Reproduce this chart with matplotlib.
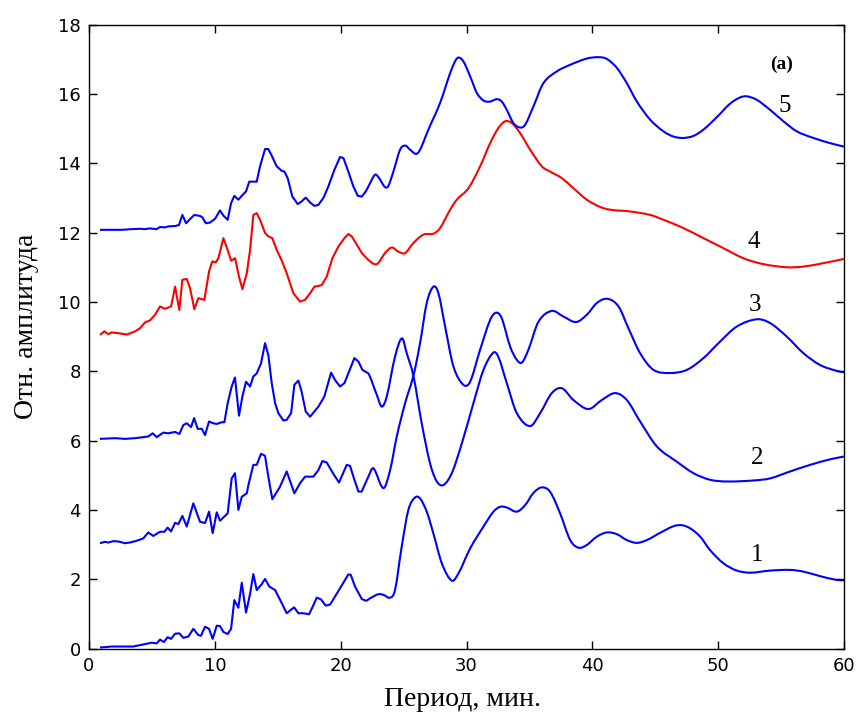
import matplotlib
matplotlib.use("Agg")
import matplotlib.pyplot as plt
from matplotlib.path import Path
from matplotlib.patches import PathPatch

# curve 1 (bottom, starts at 0)
x1 = [0.87, 1.80, 3.52, 4.32, 4.98, 5.38, 5.64, 5.96, 6.25, 6.52, 6.84, 7.18, 7.50, 7.90, 8.29, 8.69,
      8.90, 9.22, 9.54, 9.83, 10.15, 10.41, 10.68, 11.02, 11.29, 11.55, 11.87, 12.14, 12.48, 12.80,
      13.06, 13.33, 13.73, 13.99, 14.33, 14.79, 15.32, 15.71, 16.30, 16.64, 17.04, 17.49, 17.78,
      18.10, 18.44, 18.81, 19.16, 19.95, 20.61, 20.80, 21.14, 21.68, 22.00, 22.34, 23.00, 23.40,
      23.93, 24.32, 24.85, 25.38, 25.91, 26.31, 26.84, 27.37, 28.04, 28.83, 29.36, 30.29, 31.35,
      32.14, 32.67, 33.20, 34.00, 34.66, 35.32, 35.99, 36.65, 37.44, 38.24, 38.90, 39.56, 40.36,
      41.15, 41.95, 42.74, 43.54, 44.33, 45.39, 46.45, 47.11, 47.77, 48.57, 49.36, 50.42, 51.49,
      52.54, 54.13, 55.72, 56.78, 58.10, 59.43, 60.00]
y1 = [0.03, 0.06, 0.06, 0.12, 0.17, 0.15, 0.26, 0.19, 0.33, 0.28, 0.43, 0.44, 0.31, 0.35, 0.57, 0.39,
      0.37, 0.63, 0.57, 0.28, 0.66, 0.65, 0.48, 0.42, 0.57, 1.40, 1.18, 1.90, 1.04, 1.58,
      2.15, 1.69, 1.86, 2.01, 1.79, 1.69, 1.31, 1.02, 1.19, 1.02, 1.02, 0.99, 1.21,
      1.47, 1.42, 1.24, 1.27, 1.74, 2.14, 2.13, 1.79, 1.43, 1.38, 1.45, 1.57, 1.55,
      1.47, 1.69, 2.94, 4.00, 4.36, 4.33, 3.95, 3.32, 2.46, 1.96, 2.17, 2.89, 3.52,
      3.95, 4.09, 4.07, 3.95, 4.14, 4.49, 4.65, 4.52, 3.90, 3.13, 2.91, 2.99, 3.23,
      3.35, 3.30, 3.13, 3.05, 3.13, 3.34, 3.53, 3.56, 3.47, 3.23, 2.84, 2.46, 2.25,
      2.19, 2.25, 2.27, 2.22, 2.09, 1.98, 1.97]

# curve starting at 3
x2 = [0.87, 1.27, 1.53, 1.93, 2.33, 2.86, 3.26, 3.79, 4.32, 4.71, 5.11, 5.64, 5.99, 6.25, 6.52, 6.84,
      7.10, 7.42, 7.77, 8.29, 8.82, 9.22, 9.54, 9.83, 10.15, 10.41, 11.02, 11.34, 11.60, 11.87,
      12.14, 12.54, 12.67, 13.06, 13.33, 13.67, 13.99, 14.25, 14.57, 15.18, 15.71, 16.32, 16.77,
      17.17, 17.83, 18.23, 18.55, 18.89, 19.42, 19.87, 20.48, 20.75, 21.01, 21.41, 21.67, 22.20,
      22.60, 23.40, 23.93, 24.46, 25.12, 25.78, 26.31, 26.84, 27.37, 27.77, 28.30, 28.96, 29.75,
      30.29, 31.08, 31.88, 32.35, 32.80, 33.47, 34.00, 34.40, 34.92, 35.72, 36.78, 37.70, 38.71,
      39.56, 40.36, 41.20, 42.08, 42.87, 43.80, 44.86, 46.18, 47.51, 48.83, 50.16, 51.48, 53.07,
      54.13, 55.45, 56.78, 58.10, 59.43, 60.00]
y2 = [3.04, 3.08, 3.06, 3.10, 3.09, 3.04, 3.06, 3.11, 3.18, 3.35, 3.25, 3.37, 3.37, 3.49, 3.38, 3.63,
      3.59, 3.83, 3.52, 4.19, 3.66, 3.62, 3.95, 3.33, 3.93, 3.69, 3.90, 4.91, 5.06, 4.00,
      4.38, 4.48, 4.72, 5.30, 5.30, 5.62, 5.56, 4.96, 4.31, 4.67, 5.11, 4.48, 4.77,
      4.96, 4.96, 5.15, 5.41, 5.37, 5.04, 4.79, 5.30, 5.27, 4.96, 4.53, 4.53, 4.96,
      5.20, 4.63, 5.15, 6.12, 7.08, 7.87, 8.81, 9.97, 10.44, 10.25, 9.29, 8.14, 7.61,
      7.70, 8.62, 9.48, 9.69, 9.53, 8.71, 8.33, 8.25, 8.62, 9.43, 9.74, 9.58, 9.42,
      9.63, 9.97, 10.09, 9.87, 9.24, 8.52, 8.04, 7.95, 8.04, 8.38, 8.86, 9.29, 9.50,
      9.39, 9.00, 8.52, 8.18, 8.01, 7.97]

# curve starting at 6
x3 = [0.87, 2.07, 2.86, 3.66, 4.32, 4.71, 5.06, 5.38, 5.91, 6.30, 6.84, 7.18, 7.50, 7.77, 8.11, 8.35,
      8.64, 8.96, 9.22, 9.54, 9.88, 10.15, 10.55, 10.76, 11.02, 11.34, 11.60, 11.92, 12.19, 12.48,
      12.80, 13.06, 13.33, 13.67, 13.99, 14.25, 14.52, 14.79, 15.05, 15.45, 15.71, 16.06, 16.32,
      16.64, 16.90, 17.22, 17.57, 18.23, 18.70, 19.24, 19.55, 19.95, 20.30, 20.61, 21.09, 21.41,
      21.73, 22.20, 22.87, 23.27, 23.66, 24.32, 24.87, 25.25, 25.78, 26.44, 27.10, 27.64, 28.17,
      28.83, 29.63, 30.55, 31.35, 32.14, 32.54, 33.20, 34.00, 35.06, 35.85, 36.78, 37.58, 38.50,
      39.69, 40.75, 41.81, 42.74, 43.80, 45.13, 46.72, 48.04, 49.36, 50.69, 52.81, 54.13, 55.72,
      57.31, 58.90, 60.00]
y3 = [6.05, 6.07, 6.05, 6.07, 6.10, 6.12, 6.21, 6.10, 6.23, 6.21, 6.25, 6.19, 6.45, 6.50, 6.39, 6.65,
      6.34, 6.34, 6.16, 6.55, 6.50, 6.48, 6.53, 6.53, 7.08, 7.56, 7.82, 6.72, 7.27, 7.70,
      7.56, 7.85, 7.94, 8.23, 8.81, 8.47, 7.66, 7.08, 6.79, 6.58, 6.60, 6.79, 7.61,
      7.73, 7.41, 6.84, 6.69, 6.98, 7.27, 7.96, 7.75, 7.56, 7.66, 7.94, 8.38, 8.28,
      8.04, 7.94, 7.32, 6.98, 7.27, 8.42, 8.95, 8.52, 7.87, 6.50, 5.35, 4.82, 4.72,
      5.06, 5.92, 7.08, 8.04, 8.54, 8.41, 7.66, 6.79, 6.42, 6.79, 7.37, 7.51, 7.17,
      6.91, 7.17, 7.37, 7.17, 6.55, 5.83, 5.39, 5.06, 4.87, 4.82, 4.85, 4.91, 5.11,
      5.30, 5.46, 5.54]

# curve 4 (red)
x4 = [0.87, 1.22, 1.53, 1.80, 2.33, 3.00, 3.66, 4.05, 4.45, 4.85, 5.25, 5.64, 6.04, 6.52, 6.84, 7.18,
      7.42, 7.77, 8.03, 8.37, 8.69, 9.17, 9.54, 9.80, 10.07, 10.28, 10.68, 11.02, 11.29, 11.61,
      11.92, 12.19, 12.54, 12.80, 13.06, 13.33, 13.59, 13.99, 14.25, 14.57, 14.92, 15.32, 15.71,
      16.24, 16.77, 17.17, 17.57, 17.91, 18.23, 18.50, 18.89, 19.34, 19.82, 20.30, 20.61, 20.88,
      21.20, 21.68, 22.20, 22.87, 23.53, 24.06, 24.59, 25.12, 25.78, 26.57, 27.37, 27.90, 28.70,
      29.23, 30.15, 31.08, 31.88, 32.54, 33.07, 33.60, 34.26, 35.06, 35.99, 36.65, 37.58, 38.50,
      39.56, 40.62, 41.41, 43.00, 44.59, 45.65, 47.24, 48.83, 50.42, 52.01, 53.60, 55.45, 56.78,
      58.37, 60.00]
y4 = [9.05, 9.15, 9.07, 9.12, 9.10, 9.06, 9.15, 9.24, 9.41, 9.47, 9.63, 9.87, 9.80, 9.87, 10.44, 9.77,
      10.64, 10.66, 10.40, 9.79, 10.11, 10.06, 10.88, 11.17, 11.14, 11.26, 11.84, 11.50, 11.19, 11.26,
      10.73, 10.37, 10.83, 11.50, 12.51, 12.56, 12.37, 11.99, 11.89, 11.84, 11.50, 11.19, 10.83,
      10.25, 10.01, 10.06, 10.25, 10.44, 10.46, 10.49, 10.73, 11.26, 11.60, 11.84, 11.96, 11.89,
      11.70, 11.41, 11.21, 11.09, 11.41, 11.57, 11.45, 11.41, 11.70, 11.94, 11.97, 12.13, 12.66,
      12.95, 13.28, 13.91, 14.58, 15.02, 15.21, 15.16, 14.87, 14.39, 13.91, 13.76, 13.57, 13.28,
      12.95, 12.74, 12.66, 12.61, 12.51, 12.37, 12.13, 11.84, 11.55, 11.26, 11.09, 11.00, 11.02,
      11.12, 11.24]

# curve 5 (top)
x5 = [0.87, 1.80, 2.60, 3.39, 4.05, 4.45, 4.85, 5.38, 5.64, 6.04, 6.31, 6.84, 7.15, 7.42, 7.71, 8.03,
      8.37, 8.82, 9.01, 9.28, 9.62, 10.02, 10.41, 10.68, 11.02, 11.29, 11.55, 11.87, 12.14, 12.48,
      12.74, 13.33, 13.59, 13.99, 14.25, 14.52, 14.92, 15.32, 15.53, 15.79, 16.16, 16.59, 16.90,
      17.22, 17.57, 17.91, 18.23, 18.63, 19.02, 19.50, 19.95, 20.22, 20.61, 21.01, 21.36, 21.68,
      22.00, 22.34, 22.73, 23.00, 23.53, 23.79, 24.19, 24.72, 25.12, 25.52, 25.99, 26.31, 26.97,
      27.90, 28.70, 29.09, 29.36, 29.75, 30.29, 30.82, 31.35, 31.88, 32.41, 32.80, 33.20, 33.73,
      34.26, 34.66, 35.32, 36.11, 37.18, 38.24, 39.56, 40.48, 41.15, 41.95, 42.74, 43.54, 44.59,
      45.65, 46.45, 47.24, 48.04, 48.83, 49.89, 50.95, 51.75, 52.28, 53.07, 54.13, 55.19, 56.25,
      57.57, 58.90, 60.00]
y5 = [12.08, 12.08, 12.08, 12.10, 12.11, 12.10, 12.12, 12.10, 12.16, 12.15, 12.18, 12.19, 12.22, 12.51,
      12.27, 12.39, 12.51, 12.48, 12.44, 12.27, 12.29, 12.40, 12.64, 12.49, 12.37, 12.85, 13.06, 12.95,
      13.06, 13.19, 13.47, 13.47, 13.91, 14.41, 14.41, 14.22, 13.91, 13.78, 13.76, 13.57, 13.04, 12.82,
      12.90, 13.01, 12.87, 12.77, 12.80, 13.00, 13.33, 13.81, 14.18, 14.15, 13.76, 13.33, 13.06, 13.04,
      13.19, 13.43, 13.67, 13.60, 13.31, 13.35, 13.76, 14.39, 14.51, 14.39, 14.27, 14.39, 14.97,
      15.74, 16.60, 16.94, 17.05, 16.94, 16.51, 16.03, 15.81, 15.78, 15.85, 15.78, 15.54, 15.16,
      15.03, 15.11, 15.64, 16.31, 16.65, 16.84, 17.02, 17.06, 17.01, 16.75, 16.31, 15.78, 15.26,
      14.92, 14.77, 14.73, 14.79, 14.97, 15.33, 15.72, 15.90, 15.93, 15.83, 15.54, 15.21, 14.92,
      14.73, 14.58, 14.48]

curve_labels = ["1", "2", "3", "4", "5"]
label_x = [53.07, 53.07, 52.94, 52.80, 55.30]
label_y = [2.70, 5.49, 9.92, 11.74, 15.64]


def draw_curve(ax, xs, ys, color, split=22.3):
    # straight segments in the noisy short-period part, smooth (Hermite) segments after it
    n = len(xs)
    verts = [(xs[0], ys[0])]
    codes = [Path.MOVETO]
    for i in range(1, n):
        if xs[i] <= split:
            verts.append((xs[i], ys[i]))
            codes.append(Path.LINETO)
            continue
        a, b = max(i - 2, 0), min(i + 1, n - 1)
        h = xs[i] - xs[i - 1]
        m1 = (ys[i] - ys[a]) / (xs[i] - xs[a])
        m2 = (ys[b] - ys[i - 1]) / (xs[b] - xs[i - 1])
        verts += [(xs[i - 1] + h / 3, ys[i - 1] + m1 * h / 3),
                  (xs[i] - h / 3, ys[i] - m2 * h / 3),
                  (xs[i], ys[i])]
        codes += [Path.CURVE4] * 3
    ax.add_patch(PathPatch(Path(verts, codes), facecolor="none", edgecolor=color,
                           lw=1.5, joinstyle="round"))


W, H = 858, 712
fig = plt.figure(figsize=(W / 100, H / 100), dpi=100)
ax = fig.add_axes([89 / W, 1 - 648.6 / H, 755 / W, 624 / H])

draw_curve(ax, x1, y1, "#0000ff")
draw_curve(ax, x2, y2, "#0000ff")
draw_curve(ax, x3, y3, "#0000ff")
draw_curve(ax, x4, y4, "#ff0000")
draw_curve(ax, x5, y5, "#0000ff")

ax.set_xlim(0, 60)
ax.set_ylim(0, 18)
ax.set_xticks(range(0, 61, 10))
ax.set_yticks(range(0, 19, 2))
ax.tick_params(direction="in", top=True, right=True, length=6, width=1, labelsize=13, pad=6)
for s in ax.spines.values():
    s.set_linewidth(1.0)

serif = ["Liberation Serif", "DejaVu Serif"]
for t, lx, ly in zip(curve_labels, label_x, label_y):
    ax.text(lx, ly, t, fontsize=18, family=serif, ha="center", va="center")
ax.text(55.06, 16.84, "(a)", fontsize=14, family=serif, fontweight="bold", ha="center", va="center")

fig.text(463 / W, 1 - 706.5 / H, "Период, мин.", fontsize=20, family=serif,
         ha="center", va="baseline")
fig.text(33 / W, 1 - 326 / H, "Отн. амплитуда", fontsize=20, family=serif,
         rotation=90, rotation_mode="anchor", ha="center", va="baseline")

fig.savefig("out.png", dpi=100)
